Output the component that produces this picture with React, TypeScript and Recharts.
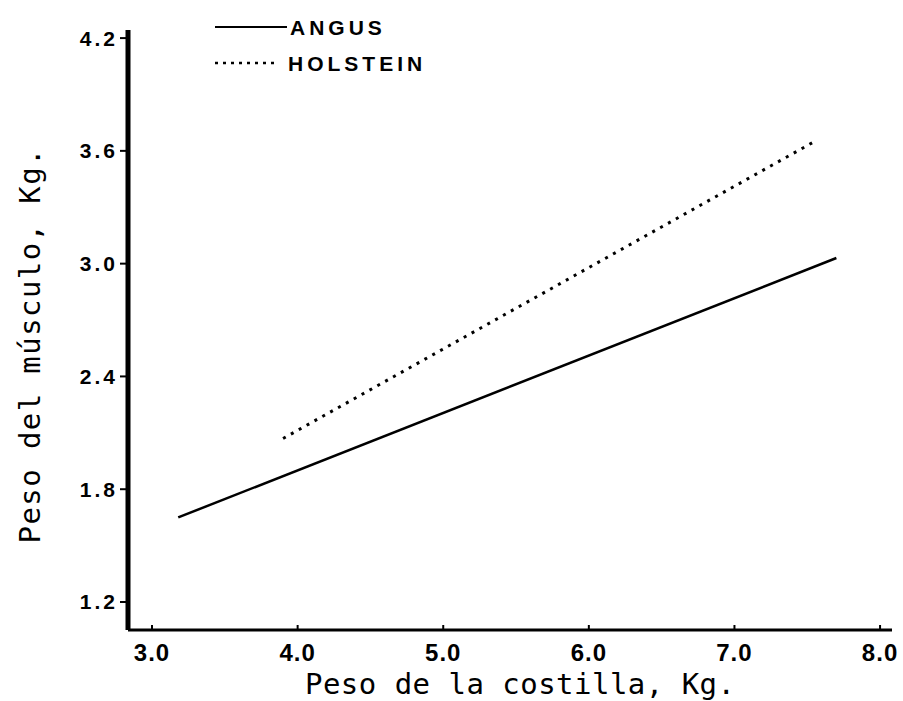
import React from 'react';
import { LineChart, Line, XAxis, YAxis } from 'recharts';

const xTicks = [3, 4, 5, 6, 7, 8];
const yTicks = [1.2, 1.8, 2.4, 3.0, 3.6, 4.2];

const angusX = [3.18, 7.7];
const angusY = [1.65, 3.03];
const holsteinX = [3.9, 7.55];
const holsteinY = [2.07, 3.65];

const seriesNames = ['ANGUS', 'HOLSTEIN'];

const angusData = angusX.map((x, i) => ({ x, y: angusY[i] }));
const holsteinData = holsteinX.map((x, i) => ({ x, y: holsteinY[i] }));

const xLabel = 'Peso de la costilla, Kg.';
const yLabel = 'Peso del músculo, Kg.';

const tickFont = '"Liberation Sans", Arial, sans-serif';
const monoFont = '"DejaVu Sans Mono", monospace';

const LegendOverlay = () => (
  <svg width={903} height={90} style={{ position: 'absolute', left: 0, top: 0 }}>
    <line x1={215} y1={27} x2={287} y2={27} stroke="#000" strokeWidth={2} />
    <text x={290} y={35} fontFamily={tickFont} fontWeight="bold" fontSize={21} letterSpacing={4} fill="#000">{seriesNames[0]}</text>
    <line x1={215} y1={63} x2={276} y2={63} stroke="#000" strokeWidth={2.5} strokeDasharray="3 5" />
    <text x={288} y={71} fontFamily={tickFont} fontWeight="bold" fontSize={21} letterSpacing={4} fill="#000">{seriesNames[1]}</text>
  </svg>
);

const XLabelContent = () => (
  <text x={520} y={694} textAnchor="middle" fontFamily={monoFont} fontSize={29} textLength={430} lengthAdjust="spacing" fill="#000">{xLabel}</text>
);

const YLabelContent = () => (
  <text x={40} y={346} transform="rotate(-90 40 346)" textAnchor="middle" fontFamily={monoFont} fontSize={29} textLength={395} lengthAdjust="spacing" fill="#000">{yLabel}</text>
);

export default function App() {
  return (
    <div style={{ position: 'absolute', left: 0, top: 0, width: 903, height: 701, background: '#fff' }}>
      <LineChart width={903} height={701} margin={{ top: 30, right: 11, bottom: 41, left: 68 }}>
        <XAxis
          type="number"
          dataKey="x"
          domain={[2.835, 8.082]}
          ticks={xTicks}
          allowDataOverflow
          height={30}
          tickFormatter={(v: number) => v.toFixed(1)}
          axisLine={{ stroke: '#000', strokeWidth: 3 }}
          tickLine={{ stroke: '#000', strokeWidth: 2 }}
          tickSize={-5}
          tickMargin={19}
          tick={{ fill: '#000', fontFamily: tickFont, fontWeight: 'bold', fontSize: 24, letterSpacing: 1 }}
          label={<XLabelContent />}
        />
        <YAxis
          type="number"
          dataKey="y"
          domain={[1.051, 4.243]}
          ticks={yTicks}
          allowDataOverflow
          width={60}
          tickFormatter={(v: number) => v.toFixed(1)}
          axisLine={{ stroke: '#000', strokeWidth: 5 }}
          tickLine={{ stroke: '#000', strokeWidth: 2 }}
          tickSize={8}
          tickMargin={2}
          tick={{ fill: '#000', fontFamily: tickFont, fontWeight: 'bold', fontSize: 21, letterSpacing: 3 }}
          label={<YLabelContent />}
        />
        <Line data={angusData} dataKey="y" name={seriesNames[0]} stroke="#000" strokeWidth={2.5} dot={false} isAnimationActive={false} />
        <Line data={holsteinData} dataKey="y" name={seriesNames[1]} stroke="#000" strokeWidth={3} strokeDasharray="3 6" dot={false} isAnimationActive={false} />
      </LineChart>
      <LegendOverlay />
    </div>
  );
}
